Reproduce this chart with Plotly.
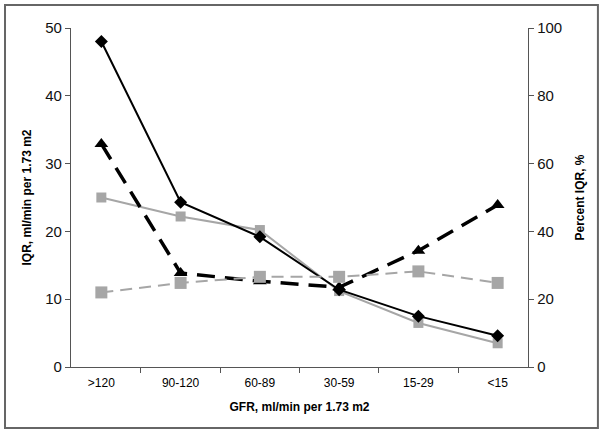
import plotly.graph_objects as go

# %%
gfr = [">120", "90-120", "60-89", "30-59", "15-29", "<15"]

# IQR, ml/min per 1.73 m2 (left axis)
iqr_a = [48.0, 24.3, 19.2, 11.4, 7.5, 4.6]
iqr_b = [25.0, 22.2, 20.2, 11.2, 6.5, 3.5]

# Percent IQR, % (right axis)
pct_a = [65.8, 27.7, 25.3, 23.5, 34.3, 47.8]
pct_b = [22.0, 24.8, 26.6, 26.6, 28.2, 24.8]

# %%
fig = go.Figure()

fig.add_trace(
    go.Scatter(
        x=gfr, y=pct_a, yaxis="y2", mode="lines+markers",
        line=dict(color="black", width=3.5, dash="18px,10px"),
        marker=dict(symbol="triangle-up", size=12, color="black"),
        showlegend=False,
    )
)
fig.add_trace(
    go.Scatter(
        x=gfr, y=pct_b, yaxis="y2", mode="lines+markers",
        line=dict(color="#a6a6a6", width=2, dash="12px,7px"),
        marker=dict(symbol="square", size=12, color="#a6a6a6"),
        showlegend=False,
    )
)
fig.add_trace(
    go.Scatter(
        x=gfr, y=iqr_b, mode="lines+markers",
        line=dict(color="#a6a6a6", width=2),
        marker=dict(symbol="square", size=10, color="#a6a6a6"),
        showlegend=False,
    )
)
fig.add_trace(
    go.Scatter(
        x=gfr, y=iqr_a, mode="lines+markers",
        line=dict(color="black", width=2),
        marker=dict(symbol="diamond", size=10, color="black"),
        showlegend=False,
    )
)

axis_font = dict(family="Liberation Sans", size=12, color="black")

fig.update_layout(
    width=605,
    height=434,
    margin=dict(l=71, r=77, t=28, b=67),
    paper_bgcolor="white",
    plot_bgcolor="white",
    font=dict(family="Liberation Sans", color="black"),
    xaxis=dict(
        type="category",
        tickson="boundaries",
        ticks="outside",
        ticklen=5,
        tickcolor="#555",
        showline=True,
        linecolor="#555",
        linewidth=1.3,
        showgrid=False,
        tickfont=dict(size=12),
        ticklabelstandoff=4,
        title=dict(text="<b>GFR, ml/min per 1.73 m2</b>", font=axis_font, standoff=14),
    ),
    yaxis=dict(
        range=[0, 50],
        dtick=10,
        ticks="outside",
        ticklen=5,
        tickcolor="#555",
        showline=True,
        linecolor="#555",
        linewidth=1.3,
        showgrid=False,
        zeroline=False,
        tickfont=dict(size=15, color="#111"),
        title=dict(text="<b>IQR, ml/min per 1.73 m2</b>", font=axis_font, standoff=10),
    ),
    yaxis2=dict(
        range=[0, 100],
        dtick=20,
        overlaying="y",
        side="right",
        ticks="outside",
        ticklen=5,
        tickcolor="#555",
        showline=True,
        linecolor="#555",
        linewidth=1.3,
        showgrid=False,
        zeroline=False,
        tickfont=dict(size=15, color="#111"),
        title=dict(text="<b>Percent IQR, %</b>", font=axis_font, standoff=14),
    ),
)

# outer frame around the chart
fig.add_shape(
    type="rect", xref="paper", yref="paper",
    x0=-0.1444, x1=1.153, y0=-0.18, y1=1.068,
    line=dict(color="#666", width=2),
)

fig.write_html(
    "out.html",
    config={"displayModeBar": False},
    post_script="document.body.style.margin='0';",
)
